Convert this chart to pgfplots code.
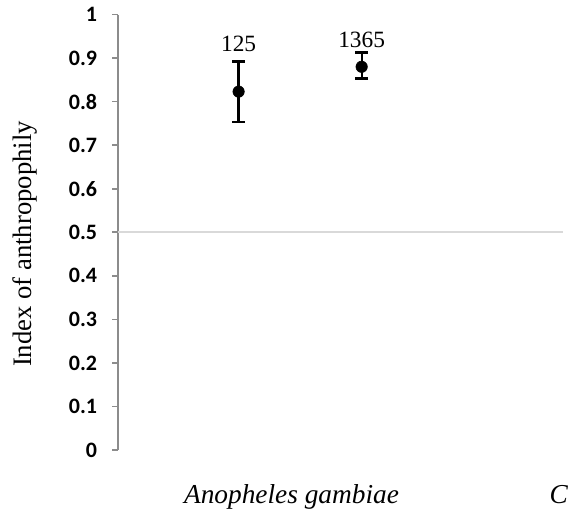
\documentclass[border=0pt]{standalone}
\usepackage{fontspec}
\setmainfont{Liberation Serif}
\newfontfamily\carlito{Carlito}
\usepackage{pgfplots}
\pgfplotsset{compat=1.18}
\begin{document}
\begin{tikzpicture}
\useasboundingbox (-88.5pt,-51.75pt) rectangle (344.25pt,337.5pt);
\clip (-88.5pt,-51.75pt) rectangle (344.25pt,337.5pt);
\begin{axis}[
  at={(0pt,0pt)}, anchor=south west,
  scale only axis, width=344.25pt, height=326.6pt,
  xmin=0.02, xmax=3.75, ymin=0, ymax=1,
  hide x axis,
  axis y line*=left,
  y axis line style={draw=black!45, line width=1.4pt},
  ytick={0,0.1,...,1.01},
  yticklabels={0,0.1,0.2,0.3,0.4,0.5,0.6,0.7,0.8,0.9,1},
  tick align=outside,
  major tick length=4.5pt,
  ytick style={draw=black!45, line width=1.2pt},
  /pgf/number format/assume math mode=true,
  yticklabel style={font=\carlito\bfseries\fontsize{16.5}{19}\selectfont, inner sep=2pt, xshift=-9pt},
  ylabel={Index of anthropophily},
  ylabel style={at={(axis description cs:-0.203,0.473)}, anchor=center, font=\fontsize{20}{23}\selectfont},
  clip=false,
]
\addplot[draw=black!15, line width=1.2pt, no markers] coordinates {(0.02,0.5) (3.634,0.5)};
\addplot[only marks, mark=*, mark size=4.3pt, black,
  error bars/.cd, y dir=both, y explicit,
  error bar style={line width=1.7pt, black},
  error mark options={rotate=90, mark size=4.8pt, line width=1.7pt, black}]
  coordinates {
    (1,0.823) += (0,0.069) -= (0,0.069)
    (2,0.880) += (0,0.033) -= (0,0.027)
  };
\node[anchor=base, font=\fontsize{17.5}{20}\selectfont] at (axis cs:1,0.914) {125};
\node[anchor=base, font=\fontsize{17.5}{20}\selectfont] at (axis cs:2,0.925) {1365};
\node[anchor=base, font=\itshape\fontsize{20.5}{24}\selectfont] at (axis cs:1.43,-0.122) {Anopheles gambiae};
\node[anchor=base west, inner sep=0pt, font=\itshape\fontsize{20.5}{24}\selectfont] at (axis cs:3.525,-0.122) {C};
\end{axis}
\end{tikzpicture}
\end{document}
